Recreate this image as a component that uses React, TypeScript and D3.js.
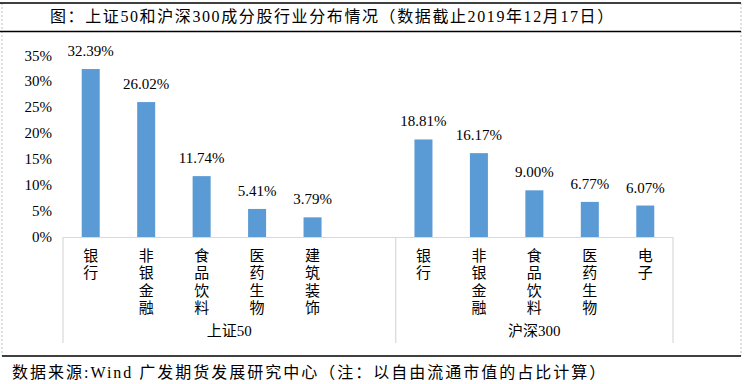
import React from 'react';
import * as d3 from 'd3';

const titleText = '图：上证50和沪深300成分股行业分布情况（数据截止2019年12月17日）';
const sourceText = '数据来源:Wind  广发期货发展研究中心（注：以自由流通市值的占比计算）';

const groupNames = ['上证50', '沪深300'];
const sz50Categories = ['银行', '非银金融', '食品饮料', '医药生物', '建筑装饰'];
const sz50Values = [32.39, 26.02, 11.74, 5.41, 3.79];
const hs300Categories = ['银行', '非银金融', '食品饮料', '医药生物', '电子'];
const hs300Values = [18.81, 16.17, 9.0, 6.77, 6.07];
const yTicks = [0, 5, 10, 15, 20, 25, 30, 35];

const W = 746;
const H = 384;
// Latin glyphs in a Times-like face, CJK falls through to Noto
const serif = '"Liberation Serif", "Noto Sans CJK SC", serif';

// one empty slot closes the first group, as in the original
const slots = [
  ...sz50Categories.map((c, i) => ({ key: 'a' + i, group: 0, cat: c, value: sz50Values[i] })),
  { key: 'a-gap', group: 0, cat: '', value: null as number | null },
  ...hs300Categories.map((c, i) => ({ key: 'b' + i, group: 1, cat: c, value: hs300Values[i] })),
];

export default function App() {
  const margin = { left: 63, right: 73, top: 55.5, bottom: 147 };

  const x = d3.scaleBand<string>()
    .domain(slots.map(s => s.key))
    .range([margin.left, W - margin.right])
    .paddingInner(0.675)
    .paddingOuter(0.3375);

  const y = d3.scaleLinear()
    .domain([0, 35])
    .range([H - margin.bottom, margin.top]);

  const step = x.step();
  const gapHalf = (step - x.bandwidth()) / 2;
  const y0 = y(0);
  const groupBottom = 343;

  // group boundaries
  const bounds = groupNames.map((g, gi) => {
    const inGroup = slots.filter(s => s.group === gi);
    const start = x(inGroup[0].key)! - gapHalf;
    const end = x(inGroup[inGroup.length - 1].key)! + x.bandwidth() + gapHalf;
    return { name: g, start, end };
  });

  return (
    <svg width={W} height={H} style={{ position: 'absolute', left: 0, top: 0, background: '#fff' }}>
      <rect x={0} y={0} width={W} height={H} fill="#fff" />
      {/* dashed outer frame */}
      <line x1={2} x2={2} y1={3} y2={356} stroke="#bfbfbf" strokeDasharray="2,2" />
      <line x1={741} x2={741} y1={3} y2={356} stroke="#bfbfbf" strokeDasharray="2,2" />
      {/* heavy rules */}
      <line x1={0} x2={741} y1={3} y2={3} stroke="#000" strokeWidth={1.3} />
      <line x1={0} x2={741} y1={31.5} y2={31.5} stroke="#000" strokeWidth={1.3} />
      <line x1={2} x2={741} y1={356} y2={356} stroke="#000" strokeWidth={1.3} />

      <text x={50} y={22} fontFamily={serif} fontSize={16} letterSpacing={1.6} fill="#000">
        {titleText}
      </text>
      <text x={12} y={378} fontFamily={serif} fontSize={16} letterSpacing={2} fill="#000">
        {sourceText}
      </text>

      {/* y tick labels */}
      {yTicks.map(t => (
        <text key={t} x={52} y={y(t) + 5} textAnchor="end" fontFamily={serif} fontSize={15} fill="#000">
          {t + '%'}
        </text>
      ))}

      {/* bars */}
      {slots.filter(s => s.value !== null).map(s => (
        <rect key={s.key} x={x(s.key)} y={y(s.value!)} width={x.bandwidth()} height={y0 - y(s.value!)} fill="#5b9bd5" />
      ))}

      {/* data labels */}
      {slots.filter(s => s.value !== null).map(s => (
        <text key={'l' + s.key} x={x(s.key)! + x.bandwidth() / 2} y={y(s.value!) - 13} textAnchor="middle"
          fontFamily={serif} fontSize={15} fill="#000">
          {s.value!.toFixed(2) + '%'}
        </text>
      ))}

      {/* category axis */}
      <line x1={margin.left} x2={W - margin.right} y1={y0 + 0.5} y2={y0 + 0.5} stroke="#d9d9d9" strokeWidth={1.2} />
      {[bounds[0].start, bounds[0].end, bounds[1].end].map((bx, i) => (
        <line key={i} x1={bx} x2={bx} y1={y0} y2={groupBottom} stroke="#d9d9d9" strokeWidth={1.2} />
      ))}

      {/* vertical category labels */}
      {slots.map(s => (
        <text key={'c' + s.key} fontFamily={serif} fontSize={15} fill="#000" textAnchor="middle">
          {Array.from(s.cat).map((ch, i) => (
            <tspan key={i} x={x(s.key)! + x.bandwidth() / 2} y={260.5 + i * 17.5}>{ch}</tspan>
          ))}
        </text>
      ))}

      {/* group labels */}
      {bounds.map(b => (
        <text key={b.name} x={(b.start + b.end) / 2} y={335.5} textAnchor="middle" fontFamily={serif} fontSize={15} fill="#000">
          {b.name}
        </text>
      ))}
    </svg>
  );
}
